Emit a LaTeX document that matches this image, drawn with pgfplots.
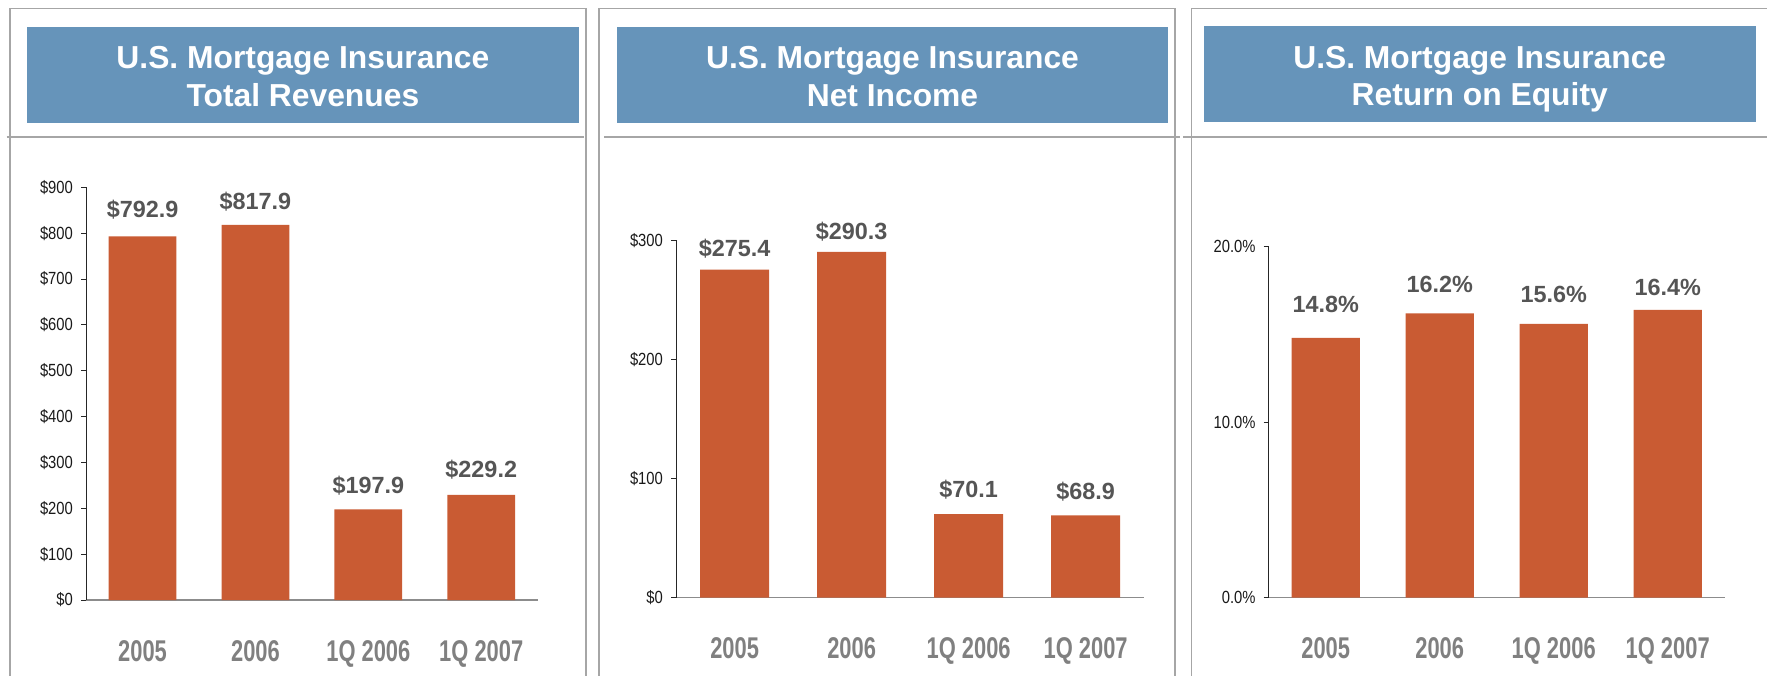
\documentclass[border=0pt]{standalone}
\usepackage{fontspec}
\setmainfont{Liberation Sans}
\newfontfamily\narrow[FakeStretch=0.84]{Liberation Sans}
\newfontfamily\narrowb[FakeStretch=0.73]{Liberation Sans}
\usepackage{pgfplots}
\usepackage{pgfplotstable}
\pgfplotsset{compat=1.18}
\definecolor{barc}{HTML}{C95B33}
\definecolor{titlec}{HTML}{6694BA}
\definecolor{framec}{HTML}{A6A6A6}
\definecolor{labc}{HTML}{555555}
\definecolor{xlabc}{HTML}{808080}
\definecolor{xaxc}{HTML}{8C8C8C}
\pgfplotstableread{
x y lab off
0 792.9 792.9 18.7
1 817.9 817.9 15
2 197.9 197.9 16
3 229.2 229.2 17.7
}\revenues
\pgfplotstableread{
x y lab off
0 275.4 275.4 13
1 290.3 290.3 12.3
2 70.1 70.1 17
3 68.9 68.9 16
}\netincome
\pgfplotstableread{
x y lab off
0 14.8 14.8 25
1 16.2 16.2 20.7
2 15.6 15.6 21.7
3 16.4 16.4 14
}\roe
\pgfplotsset{
  mystyle/.style={
    scale only axis, anchor=south west,
    xmin=-0.5, xmax=3.5, ymin=0,
    axis x line*=bottom, axis y line*=left,
    x axis line style={draw=xaxc, line width=1.6pt},
    y axis line style={draw=black!85, line width=0.9pt},
    xtick={0,1,2,3},
    xticklabels={2005,2006,1Q 2006,1Q 2007},
    major x tick style={draw=none},
    major y tick style={draw=black!85, line width=0.9pt},
    tick align=outside, major tick length=5pt,
    xticklabel style={anchor=base, inner sep=0pt, yshift=-56pt, font=\narrowb\bfseries\fontsize{30}{30}\selectfont, text=xlabc},
    yticklabel style={anchor=east, inner sep=0pt, xshift=-8pt, font=\narrow\fontsize{17.6}{17.6}\selectfont, text=black!90},
    ybar, bar width=0.6,
    point meta=explicit symbolic,
    every node near coord/.append style={anchor=base, font=\bfseries\fontsize{23.4}{23.4}\selectfont, text=labc},
    clip=false,
  },
  myplot/.style={fill=barc, draw=none,
    visualization depends on={\thisrow{off}\as\off},
    every node near coord/.append style={yshift=\off pt}}
}
\begin{document}
\begin{tikzpicture}[x=1pt,y=-1pt]
\useasboundingbox (0,0) rectangle (1767,675);
% frames
\draw[framec, line width=1.7pt] (10.3,690) -- (10.3,8.6) -- (586.3,8.6) -- (586.3,690);
\draw[framec, line width=1.7pt] (599,690) -- (599,8.6) -- (1175,8.6) -- (1175,690);
\draw[framec, line width=1.7pt] (1191.5,690) -- (1191.5,8.6) -- (1780,8.6);
% rules
\draw[framec, line width=1.8pt] (6.5,136.7) -- (583.6,136.7);
\draw[framec, line width=1.8pt] (604,136.7) -- (1180,136.7);
\draw[framec, line width=1.8pt] (1183,136.7) -- (1780,136.7);
% title boxes
\fill[titlec] (27.2,27) rectangle (578.6,122.7);
\fill[titlec] (617,27) rectangle (1168,122.7);
\fill[titlec] (1203.6,26) rectangle (1755.8,121.7);
\tikzset{ttl/.style={anchor=base, text=white, inner sep=0pt, font=\bfseries\fontsize{31.8}{31.8}\selectfont}}
\node[ttl] at (302.9,68.3) {U.S. Mortgage Insurance};
\node[ttl] at (302.9,106) {Total Revenues};
\node[ttl] at (892.5,68.3) {U.S. Mortgage Insurance};
\node[ttl] at (892.5,106) {Net Income};
\node[ttl] at (1479.7,68) {U.S. Mortgage Insurance};
\node[ttl] at (1479.7,105.5) {Return on Equity};

% Panel 1
\begin{axis}[mystyle, at={(86.1pt,-600pt)}, width=451.6pt, height=412.7pt,
  ymax=900, ytick={0,100,...,900},
  yticklabels={\$0,\$100,\$200,\$300,\$400,\$500,\$600,\$700,\$800,\$900}]
\addplot[myplot, nodes near coords={\$\pgfplotspointmeta}]
  table[x=x, y=y, meta=lab] {\revenues};
\end{axis}

% Panel 2
\begin{axis}[mystyle, at={(676.1pt,-597.5pt)}, width=468.1pt, height=357.2pt,
  ymax=300, ytick={0,100,200,300}, bar width=0.59,
  yticklabels={\$0,\$100,\$200,\$300}]
\addplot[myplot, nodes near coords={\$\pgfplotspointmeta}]
  table[x=x, y=y, meta=lab] {\netincome};
\end{axis}

% Panel 3
\begin{axis}[mystyle, at={(1268.7pt,-597.5pt)}, width=456pt, height=350.8pt,
  ymax=20, ytick={0,10,20},
  yticklabels={0.0\%,10.0\%,20.0\%}]
\addplot[myplot, nodes near coords={\pgfplotspointmeta\%}]
  table[x=x, y=y, meta=lab] {\roe};
\end{axis}
\end{tikzpicture}
\end{document}
